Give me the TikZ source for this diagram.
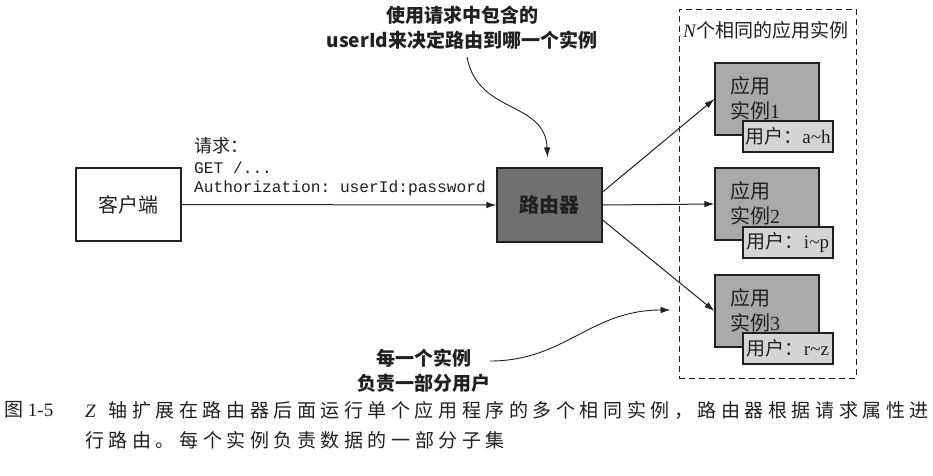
\documentclass[tikz,border=0pt]{standalone}
\usepackage{fontspec}
\setmainfont{Liberation Serif}
\setmonofont{Liberation Mono}
\newfontfamily\cjk{Noto Sans CJK SC}
\usetikzlibrary{arrows.meta,calc}
\definecolor{routerfill}{HTML}{707070}
\definecolor{appfill}{HTML}{A9A9A9}
\definecolor{tagfill}{HTML}{D4D4D4}
\definecolor{ink}{HTML}{202020}
\begin{document}
\begin{tikzpicture}[x=1pt,y=-1pt,
  every node/.style={text=ink},
  boxstyle/.style={draw=ink, line width=1.2pt, inner sep=0pt},
  clientbox/.style={boxstyle, fill=white, minimum width=105pt, minimum height=73pt, font=\cjk\fontsize{20}{24}\selectfont},
  routerbox/.style={boxstyle, fill=routerfill, minimum width=105pt, minimum height=74pt, font=\cjk\bfseries\fontsize{20}{24}\selectfont},
  appbox/.style={boxstyle, fill=appfill, minimum width=104pt, minimum height=72pt},
  apptext/.style={anchor=north west, align=left, inner sep=0pt, font=\fontsize{20}{25}\selectfont},
  tagbox/.style={boxstyle, fill=tagfill, minimum width=90pt, minimum height=31pt, font=\fontsize{19}{20}\selectfont},
  annot/.style={align=center, inner sep=0pt, font=\cjk\bfseries\fontsize{19}{25}\selectfont},
  conn/.style={draw=ink, line width=1pt, -{Latex[length=10pt,width=6.5pt]}},
  curv/.style={draw=ink, line width=0.9pt, -{Latex[length=10pt,width=6.5pt]}},
  captext/.style={anchor=west, inner sep=0pt, font=\cjk\fontsize{19}{20}\selectfont\addfontfeature{LetterSpace=24}}
]
\useasboundingbox (0,0) rectangle (933,475);
\fill[white] (0,0) rectangle (933,475);

% group
\node[draw=ink, line width=1pt, dash pattern=on 6pt off 4pt, minimum width=177pt, minimum height=369pt, inner sep=0pt] (grp) at (767.5,193.5) {};
\node[anchor=west, inner sep=0pt, font=\fontsize{19}{20}\selectfont] (grplabel) at (683,30) {\textit{N}{\cjk 个相同的应用实例}};

% client and router
\node[clientbox] (client) at (128.5,204.5) {客户端};
\node[routerbox] (router) at (549.5,205) {路由器};

% request label
\node[anchor=west, inner sep=0pt, font=\cjk\fontsize{18}{20}\selectfont] (req) at (194,146) {请求：};
\node[anchor=west, inner sep=0pt, font=\ttfamily\fontsize{16.2}{19}\selectfont, align=left] (reqtext) at (194,178.5) {GET /...\\Authorization: userId:password};

% app instances
\node[appbox] (a1) at (767,99) {};
\node[appbox] (a2) at (767,204) {};
\node[appbox] (a3) at (767,311) {};
\node[apptext] (a1t) at (730,76) {{\cjk 应用}\\{\cjk 实例}1};
\node[apptext] (a2t) at (730,181) {{\cjk 应用}\\{\cjk 实例}2};
\node[apptext] (a3t) at (730,288) {{\cjk 应用}\\{\cjk 实例}3};
\node[tagbox] (u1) at (788,136.5) {{\cjk 用户：}a\textasciitilde h};
\node[tagbox] (u2) at (788,242.5) {{\cjk 用户：}i\textasciitilde p};
\node[tagbox] (u3) at (788,348.5) {{\cjk 用户：}r\textasciitilde z};

% connectors
\draw[conn] (client.east) -- (router.west);
\draw[conn] ($(router.east)+(0,-13)$) -- (a1.west);
\draw[conn] (router.east) -- (a2.west);
\draw[conn] ($(router.east)+(0,15)$) -- (a3.west);

% annotations
\node[annot] (ann1) at (462,28) {使用请求中包含的\\userId来决定路由到哪一个实例};
\coordinate (s1) at (467,57);
\coordinate (t1) at ($(router.north)+(-2,-10)$);
\draw[curv] (s1) .. controls (478,115) and (545,100) .. (t1);

\node[annot] (ann2) at (424,370.5) {每一个实例\\负责一部分用户};
\coordinate (s2) at (490,361);
\coordinate (t2) at ($(grp.west |- a3.west)+(-8,-1)$);
\draw[curv] (s2) .. controls (565,361) and (590,310) .. (t2);

% caption
\node[anchor=west, inner sep=0pt, font=\fontsize{19}{20}\selectfont] (capnum) at (4,410) {{\cjk 图} 1-5};
\node[captext] (cap1) at (85,410) {\makebox[23.5pt][l]{\rmfamily\itshape Z}轴扩展在路由器后面运行单个应用程序的多个相同实例，路由器根据请求属性进};
\node[captext] (cap2) at (85,440) {行路由。每个实例负责数据的一部分子集};
\end{tikzpicture}
\end{document}
